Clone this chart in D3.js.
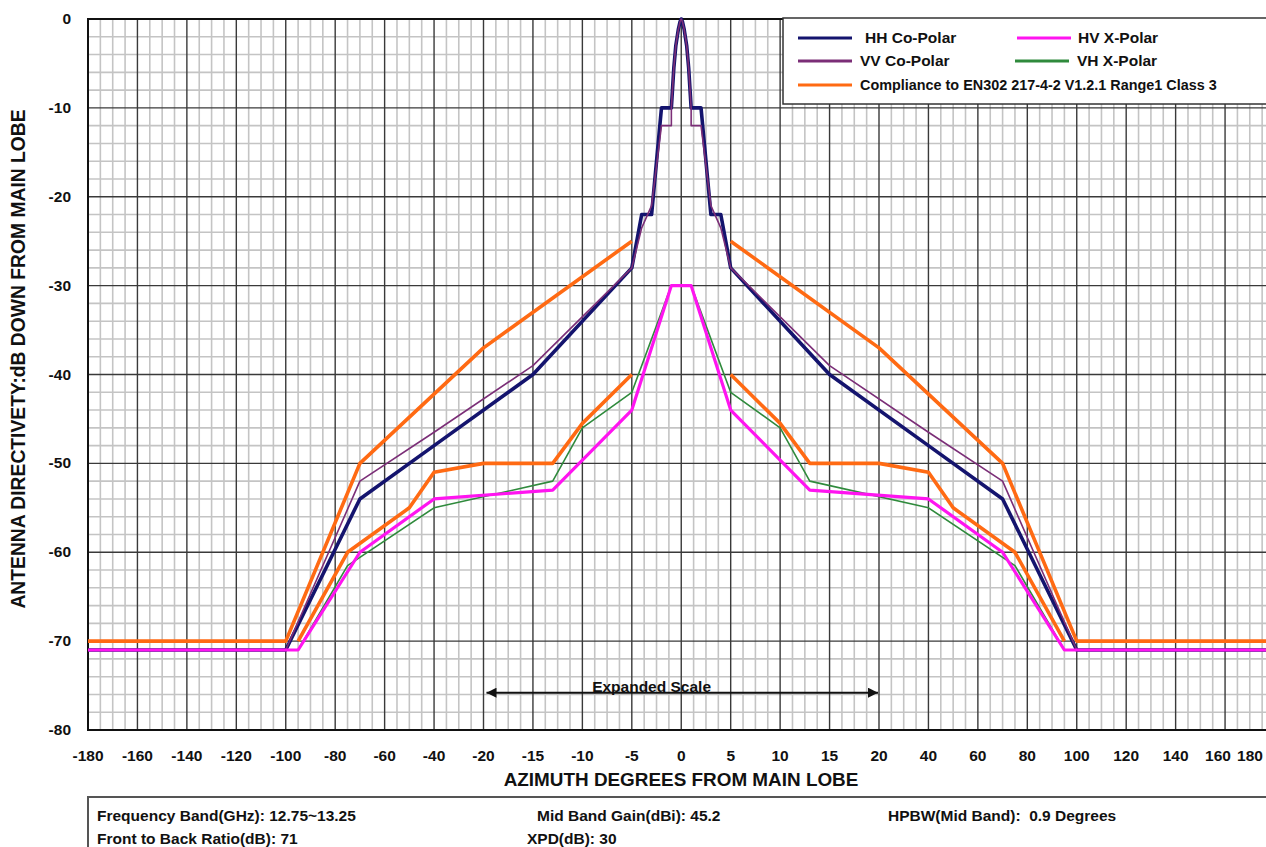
<!DOCTYPE html>
<html>
<head>
<meta charset="utf-8">
<script src="https://cdn.jsdelivr.net/npm/d3@7/dist/d3.min.js"></script>
<style>
body { margin: 0; background: #fff; overflow: hidden; }
svg { display: block; font-family: Arial, "Liberation Sans", sans-serif; font-weight: bold; }
</style>
</head>
<body>
<script>
// Tick labels (the x axis is expanded between -20 and 20 degrees)
var xTicks = [-180, -160, -140, -120, -100, -80, -60, -40, -20, -15, -10, -5, 0,
              5, 10, 15, 20, 40, 60, 80, 100, 120, 140, 160, 180];
var yTicks = [0, -10, -20, -30, -40, -50, -60, -70, -80];

// Series: [azimuth degrees, dB down from main lobe]
var hhCoPolar = [[-180, -71], [-100, -71], [-70, -54], [-40, -48], [-15, -40], [-5, -28],
    [-4, -22], [-3, -22], [-2, -10], [-1, -10], [-0.75, -5.5], [-0.55, -3], [-0.3, -1.2],
    [-0.12, -0.3], [0, 0], [0.12, -0.3], [0.3, -1.2], [0.55, -3], [0.75, -5.5], [1, -10],
    [2, -10], [3, -22], [4, -22], [5, -28], [15, -40], [40, -48], [70, -54], [100, -71], [180, -71]];

var vvCoPolar = [[-180, -71], [-100, -71], [-70, -52], [-40, -46.5], [-15, -39], [-5, -28],
    [-4, -23.5], [-3, -21], [-2, -12], [-1, -12], [-1, -10], [-0.75, -5.5], [-0.55, -3],
    [-0.3, -1.2], [-0.12, -0.3], [0, 0], [0.12, -0.3], [0.3, -1.2], [0.55, -3], [0.75, -5.5],
    [1, -10], [1, -12], [2, -12], [3, -21], [4, -23.5], [5, -28], [15, -39], [40, -46.5],
    [70, -52], [100, -71], [180, -71]];

var hvXPolar = [[-180, -71], [-95, -71], [-70, -60], [-40, -54], [-13, -53], [-5, -44],
    [-1, -30], [1, -30], [5, -44], [13, -53], [40, -54], [70, -60], [95, -71], [180, -71]];

var vhXPolar = [[-180, -71], [-95, -71], [-75, -61.5], [-40, -55], [-13, -52], [-10, -46],
    [-5, -42], [-1, -30], [1, -30], [5, -42], [10, -46], [13, -52], [40, -55], [75, -61.5],
    [95, -71], [180, -71]];

// Compliance envelope (co-polar and cross-polar masks, each side)
var maskCoLeft = [[-180, -70], [-100, -70], [-70, -50], [-20, -37], [-5, -25]];
var maskCoRight = [[5, -25], [20, -37], [70, -50], [100, -70], [180, -70]];
var maskXLeft = [[-95, -70], [-75, -60], [-50, -55], [-40, -51], [-20, -50], [-13, -50],
    [-10, -45.5], [-5, -40]];
var maskXRight = [[5, -40], [10, -45.5], [13, -50], [20, -50], [40, -51], [50, -55],
    [75, -60], [95, -70]];

var width = 1266,
    height = 847;

var svg = d3.select("body")
    .append("svg")
    .attr("width", width)
    .attr("height", height);

// piecewise scale: 20 deg per division outside, 5 deg per division inside +/-20
var x = d3.scaleLinear()
    .domain([-180, -20, 20, 180])
    .range([88, 483.5, 879, 1274.5]);

var y = d3.scaleLinear()
    .domain([-80, 0])
    .range([730, 19]);

// Minor grid: 4 sub divisions between x ticks, every 2 dB in y
var xMinor = [];
for (var i = 0; i < xTicks.length - 1; i++) {
    for (var k = 1; k < 4; k++) {
        xMinor.push(xTicks[i] + (xTicks[i + 1] - xTicks[i]) * k / 4);
    }
}
var yMinor = d3.range(-78, 0, 2).filter(function(d) { return d % 10 != 0; });

var grid = svg.append("g");

grid.selectAll(".xminor")
    .data(xMinor)
    .enter().append("line")
    .attr("x1", function(d) { return x(d); })
    .attr("x2", function(d) { return x(d); })
    .attr("y1", y(0))
    .attr("y2", y(-80))
    .attr("stroke", "#c4c4c4")
    .attr("stroke-width", 1.6);

grid.selectAll(".yminor")
    .data(yMinor)
    .enter().append("line")
    .attr("x1", x(-180))
    .attr("x2", x(180))
    .attr("y1", function(d) { return y(d); })
    .attr("y2", function(d) { return y(d); })
    .attr("stroke", "#c4c4c4")
    .attr("stroke-width", 1.6);

grid.selectAll(".xmajor")
    .data(xTicks)
    .enter().append("line")
    .attr("x1", function(d) { return x(d); })
    .attr("x2", function(d) { return x(d); })
    .attr("y1", y(0))
    .attr("y2", y(-80))
    .attr("stroke", "#3a3a3a")
    .attr("stroke-width", 1.4);

grid.selectAll(".ymajor")
    .data(yTicks)
    .enter().append("line")
    .attr("x1", x(-180))
    .attr("x2", x(180))
    .attr("y1", function(d) { return y(d); })
    .attr("y2", function(d) { return y(d); })
    .attr("stroke", "#3a3a3a")
    .attr("stroke-width", 1.4);

// plot frame
svg.append("rect")
    .attr("x", x(-180))
    .attr("y", y(0))
    .attr("width", x(180) - x(-180))
    .attr("height", y(-80) - y(0))
    .attr("fill", "none")
    .attr("stroke", "#111")
    .attr("stroke-width", 2);

// Axis tick labels (the last two get squeezed in so they stay on the page)
svg.append("g").selectAll("text")
    .data(xTicks)
    .enter().append("text")
    .attr("x", function(d) {
        if (d == 180) return 1250;
        if (d == 160) return 1218;
        return x(d);
    })
    .attr("y", 761)
    .attr("text-anchor", "middle")
    .attr("font-size", "15.5px")
    .attr("fill", "#111")
    .text(function(d) { return d; });

svg.append("g").selectAll("text")
    .data(yTicks)
    .enter().append("text")
    .attr("x", 71)
    .attr("y", function(d) { return y(d) + 5; })
    .attr("text-anchor", "end")
    .attr("font-size", "15.5px")
    .attr("fill", "#111")
    .text(function(d) { return d; });

// Axis titles
svg.append("text")
    .attr("x", 681)
    .attr("y", 786)
    .attr("text-anchor", "middle")
    .attr("font-size", "18.9px")
    .attr("fill", "#111")
    .text("AZIMUTH DEGREES FROM MAIN LOBE");

svg.append("text")
    .attr("transform", "translate(25,359) rotate(-90)")
    .attr("text-anchor", "middle")
    .attr("font-size", "19.3px")
    .attr("fill", "#111")
    .text("ANTENNA DIRECTIVETY:dB DOWN FROM MAIN LOBE");

// Series lines
var line = d3.line()
    .x(function(d) { return x(d[0]); })
    .y(function(d) { return y(d[1]); });

var series = [
    { data: hhCoPolar, color: "#14146e", w: 3.6 },
    { data: vvCoPolar, color: "#7b2e77", w: 1.6 },
    { data: vhXPolar, color: "#2f8a3c", w: 1.6 },
    { data: hvXPolar, color: "#ff14f0", w: 3.2 },
    { data: maskCoLeft, color: "#ff6a13", w: 3.6 },
    { data: maskCoRight, color: "#ff6a13", w: 3.6 },
    { data: maskXLeft, color: "#ff6a13", w: 3.6 },
    { data: maskXRight, color: "#ff6a13", w: 3.6 }
];

svg.append("g").selectAll("path")
    .data(series)
    .enter().append("path")
    .attr("d", function(d) { return line(d.data); })
    .attr("fill", "none")
    .attr("stroke", function(d) { return d.color; })
    .attr("stroke-width", function(d) { return d.w; })
    .attr("stroke-linejoin", "round");

// Expanded scale arrow
var defs = svg.append("defs");
defs.append("marker")
    .attr("id", "head")
    .attr("viewBox", "0 0 10 10")
    .attr("refX", 10)
    .attr("refY", 5)
    .attr("markerWidth", 16)
    .attr("markerHeight", 10)
    .attr("markerUnits", "userSpaceOnUse")
    .attr("orient", "auto-start-reverse")
    .append("path")
    .attr("d", "M0,0L10,5L0,10Z")
    .attr("fill", "#111");

svg.append("line")
    .attr("x1", x(-20) + 3)
    .attr("x2", x(20) - 1)
    .attr("y1", y(-75.8))
    .attr("y2", y(-75.8))
    .attr("stroke", "#111")
    .attr("stroke-width", 2)
    .attr("marker-start", "url(#head)")
    .attr("marker-end", "url(#head)");

svg.append("text")
    .attr("x", x(-3))
    .attr("y", y(-75.8) - 1)
    .attr("text-anchor", "middle")
    .attr("font-size", "15.5px")
    .attr("fill", "#111")
    .text("Expanded Scale");

// Legend
var legend = svg.append("g");

legend.append("rect")
    .attr("x", 783)
    .attr("y", 18)
    .attr("width", 520)
    .attr("height", 86)
    .attr("fill", "#fff")
    .attr("stroke", "#333")
    .attr("stroke-width", 1.5);

var legendItems = [
    { name: "HH Co-Polar", color: "#14146e", lx: 798, tx: 865, ty: 38, size: 15.5 },
    { name: "HV X-Polar", color: "#ff14f0", lx: 1017, tx: 1078, ty: 38, size: 15.5 },
    { name: "VV Co-Polar", color: "#7b2e77", lx: 798, tx: 860, ty: 61, size: 15.5 },
    { name: "VH X-Polar", color: "#2f8a3c", lx: 1015, tx: 1077, ty: 61, size: 15.5 },
    { name: "Compliance to EN302 217-4-2 V1.2.1 Range1 Class 3", color: "#ff6a13", lx: 798, tx: 860, ty: 85, size: 14.4 }
];

legend.selectAll("line")
    .data(legendItems)
    .enter().append("line")
    .attr("x1", function(d) { return d.lx; })
    .attr("x2", function(d) { return d.lx + 54; })
    .attr("y1", function(d) { return d.ty; })
    .attr("y2", function(d) { return d.ty; })
    .attr("stroke", function(d) { return d.color; })
    .attr("stroke-width", 3);

legend.selectAll("text")
    .data(legendItems)
    .enter().append("text")
    .attr("x", function(d) { return d.tx; })
    .attr("y", function(d) { return d.ty + 5; })
    .attr("font-size", function(d) { return d.size + "px"; })
    .attr("fill", "#111")
    .text(function(d) { return d.name; });

// Spec box under the chart
var specs = [
    { t: "Frequency Band(GHz): 12.75~13.25", x: 97, y: 821 },
    { t: "Front to Back Ratio(dB): 71", x: 97, y: 844 },
    { t: "Mid Band Gain(dBi): 45.2", x: 537, y: 821 },
    { t: "XPD(dB): 30", x: 527, y: 844 },
    { t: "HPBW(Mid Band):  0.9 Degrees", x: 888, y: 821 }
];

svg.append("rect")
    .attr("x", 88)
    .attr("y", 797)
    .attr("width", 1200)
    .attr("height", 80)
    .attr("fill", "none")
    .attr("stroke", "#555")
    .attr("stroke-width", 2);

svg.append("g").selectAll("text")
    .data(specs)
    .enter().append("text")
    .attr("x", function(d) { return d.x; })
    .attr("y", function(d) { return d.y; })
    .attr("font-size", "15.5px")
    .attr("fill", "#111")
    .style("white-space", "pre")
    .text(function(d) { return d.t; });
</script>
</body>
</html>
